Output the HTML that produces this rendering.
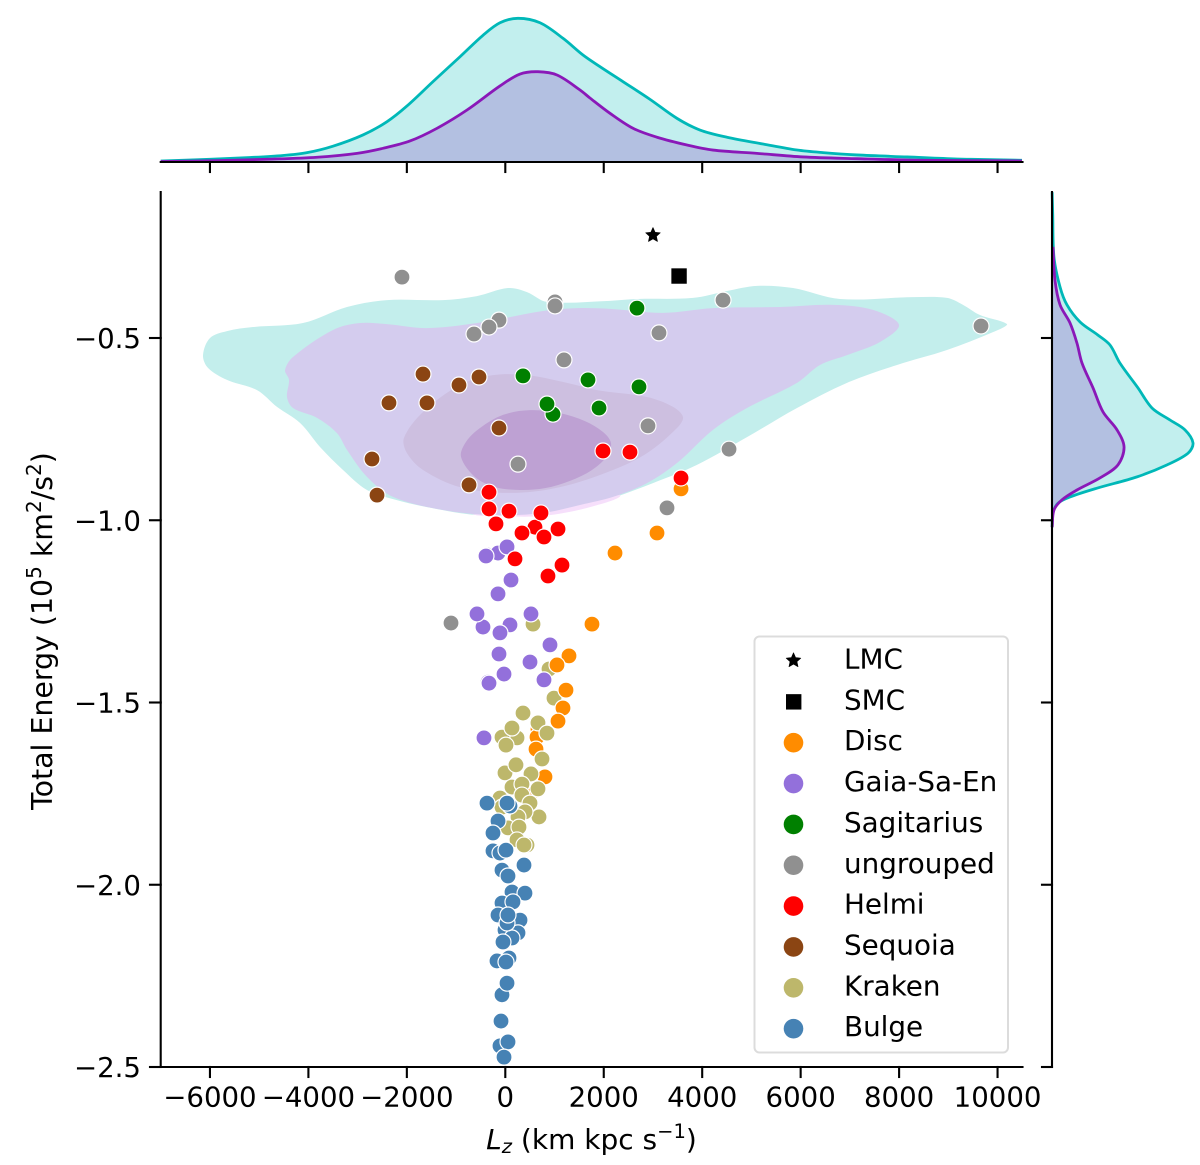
<!DOCTYPE html>
<html>
<head>
<meta charset="utf-8">
<title>Total energy versus angular momentum</title>
<style>
html,body{margin:0;padding:0;background:#fff;}
svg{display:block;}
text{font-family:"DejaVu Sans",sans-serif;fill:#000;}
</style>
</head>
<body>
<svg id="chart" width="1200" height="1165" viewBox="0 0 1200 1165" xmlns="http://www.w3.org/2000/svg"></svg>
<script>
// Tick values
const xTickValues = [-6000, -4000, -2000, 0, 2000, 4000, 6000, 8000, 10000];
const yTickValues = [-0.5, -1.0, -1.5, -2.0, -2.5];

// Contour levels (Lz, energy)
const outerContourLz = [-6141,-5999,-5654,-5125,-4110,-3216,-2403,-1266,-575,55,441,847,2127,2675,3813,4504,5113,5845,6799,8282,8973,9298,9644,10111,10192,9907,8973,7957,6942,5926,4910,3894,3000,2188,1518,441,-575,-1591,-2281,-2810,-3297,-3764,-4171,-4638,-5044,-5654,-6040];
const outerContourEnergy = [-0.547,-0.5,-0.481,-0.47,-0.459,-0.415,-0.396,-0.396,-0.385,-0.363,-0.374,-0.401,-0.398,-0.393,-0.39,-0.371,-0.357,-0.363,-0.393,-0.388,-0.39,-0.409,-0.437,-0.456,-0.464,-0.484,-0.533,-0.574,-0.623,-0.692,-0.772,-0.848,-0.898,-0.939,-0.966,-0.986,-0.986,-0.964,-0.942,-0.917,-0.862,-0.799,-0.733,-0.689,-0.643,-0.615,-0.582];
const pinkContourLz = [-717,-108,766,1720,2330,1111,-514];
const pinkContourEnergy = [-0.977,-0.988,-0.988,-0.964,-0.931,-0.89,-0.89];
const purpleContourLz = [-4475,-4313,-3500,-2952,-2403,-1591,-575,766,1457,2127,3204,4219,5581,6657,7470,7998,7612,6942,6393,5926,4910,4219,3488,2879,2188,1518,766,-250,-1266,-2281,-2810,-3216,-3419,-3825,-4313,-4435,-4394];
const purpleContourEnergy = [-0.588,-0.552,-0.478,-0.459,-0.462,-0.473,-0.459,-0.426,-0.418,-0.42,-0.431,-0.418,-0.415,-0.409,-0.423,-0.464,-0.511,-0.547,-0.574,-0.623,-0.692,-0.752,-0.843,-0.898,-0.936,-0.958,-0.98,-0.986,-0.972,-0.936,-0.881,-0.807,-0.761,-0.719,-0.692,-0.662,-0.615];
const middleContourLz = [-2058,-1672,-920,-250,441,1253,1863,2879,3407,3610,3488,2879,2188,1111,95,-920,-1672,-1997];
const middleContourEnergy = [-0.774,-0.703,-0.629,-0.602,-0.602,-0.623,-0.643,-0.662,-0.689,-0.717,-0.747,-0.816,-0.862,-0.909,-0.925,-0.909,-0.862,-0.816];
const innerContourLz = [-900,-798,-514,-47,502,1111,1619,1985,2147,2066,1761,1314,806,299,-209,-616];
const innerContourEnergy = [-0.826,-0.785,-0.747,-0.711,-0.698,-0.706,-0.728,-0.758,-0.788,-0.824,-0.862,-0.892,-0.912,-0.917,-0.909,-0.881];

// Top marginal density
const topAllLz = [-7000,-5999,-5186,-4516,-4028,-3500,-2891,-2403,-1997,-1469,-920,-453,-108,258,705,1172,1578,1924,2391,2940,3488,3955,4504,5235,5926,6454,7145,8161,9176,10497];
const topAllDensity = [0.007,0.019,0.031,0.045,0.065,0.11,0.188,0.28,0.389,0.558,0.731,0.88,0.967,0.998,0.967,0.859,0.743,0.662,0.558,0.435,0.303,0.222,0.172,0.125,0.083,0.065,0.049,0.035,0.021,0.012];
const topGroupLz = [-7000,-5857,-4841,-3825,-3013,-2485,-1936,-1388,-778,-108,299,664,1050,1518,1721,2127,2594,3082,3691,4219,5113,6048,7145,8485,10497];
const topGroupDensity = [0.003,0.009,0.019,0.033,0.06,0.095,0.146,0.234,0.361,0.528,0.611,0.627,0.604,0.5,0.444,0.338,0.234,0.172,0.118,0.083,0.06,0.035,0.023,0.012,0.007];

// Right marginal density
const rightAllEnergy = [-0.1,-0.157,-0.278,-0.36,-0.409,-0.456,-0.492,-0.519,-0.569,-0.637,-0.692,-0.725,-0.752,-0.788,-0.816,-0.848,-0.881,-0.912,-0.936,-0.953,-0.98,-1.019];
const rightAllDensity = [0.001,0.005,0.014,0.057,0.106,0.199,0.326,0.411,0.482,0.61,0.709,0.837,0.943,1.0,0.965,0.816,0.603,0.319,0.128,0.043,0.007,0.001];
const rightGroupEnergy = [-0.25,-0.341,-0.409,-0.459,-0.514,-0.569,-0.637,-0.703,-0.752,-0.799,-0.848,-0.884,-0.917,-0.944,-0.972,-1.019];
const rightGroupDensity = [0.007,0.021,0.057,0.128,0.177,0.213,0.291,0.362,0.461,0.511,0.468,0.34,0.177,0.071,0.014,0.001];

// Scatter groups
const discUpperLz = [3570,3082,2229,1761,1294,1050,1233,1172,1071];
const discUpperEnergy = [-0.914,-1.035,-1.09,-1.285,-1.372,-1.397,-1.466,-1.515,-1.551];
const discLowerLz = [664,644,624,806,542];
const discLowerEnergy = [-1.573,-1.595,-1.628,-1.704,-1.746];
const gaiaLz = [-372,-148,-392,35,116,-148,-453,95,-575,-108,522,-128,908,502,-351,-331,-26,786,-433];
const gaiaEnergy = [-1.095,-1.09,-1.098,-1.073,-1.164,-1.202,-1.293,-1.287,-1.257,-1.309,-1.257,-1.367,-1.342,-1.389,-1.444,-1.447,-1.422,-1.438,-1.597];
const sagittariusLz = [360,1680,969,847,1904,2675,2716];
const sagittariusEnergy = [-0.604,-0.615,-0.709,-0.681,-0.692,-0.418,-0.634];
const ungroupedLz = [-2099,1010,1010,-128,-331,-636,1192,258,4423,3122,2899,9664,4545,3285,-1103];
const ungroupedEnergy = [-0.333,-0.401,-0.412,-0.451,-0.47,-0.489,-0.56,-0.846,-0.396,-0.486,-0.741,-0.467,-0.805,-0.966,-1.282];
const helmiLz = [1985,2533,3570,-331,-331,75,603,725,-189,1071,339,786,197,1152,867];
const helmiEnergy = [-0.81,-0.813,-0.884,-0.923,-0.969,-0.975,-1.019,-0.98,-1.01,-1.024,-1.035,-1.046,-1.106,-1.123,-1.153];
const sequoiaLz = [-1672,-941,-534,-2363,-1591,-128,-2708,-737,-2606];
const sequoiaEnergy = [-0.599,-0.629,-0.607,-0.678,-0.678,-0.747,-0.832,-0.903,-0.931];
const krakenLz = [563,888,989,360,664,847,238,-67,14,136,746,-6,217,522,136,339,664,339,-108,502,-67,685,400,258,55,278,238,441,380];
const krakenEnergy = [-1.285,-1.408,-1.488,-1.529,-1.556,-1.584,-1.597,-1.595,-1.617,-1.57,-1.655,-1.693,-1.671,-1.696,-1.732,-1.724,-1.737,-1.754,-1.762,-1.776,-1.787,-1.814,-1.8,-1.814,-1.844,-1.842,-1.877,-1.891,-1.891];
const bulgeLz = [-372,95,35,-148,-250,-250,-108,14,380,-67,55,136,400,-67,156,-148,299,-6,258,136,35,55,-47,-169,75,14,-67,35,-87,-108,55,-26];
const bulgeEnergy = [-1.776,-1.784,-1.776,-1.825,-1.858,-1.907,-1.913,-1.905,-1.946,-1.96,-1.976,-2.02,-2.023,-2.05,-2.047,-2.083,-2.097,-2.124,-2.132,-2.146,-2.105,-2.083,-2.157,-2.209,-2.201,-2.212,-2.302,-2.27,-2.374,-2.442,-2.431,-2.473];
const lmcLz = [3000];
const lmcEnergy = [-0.218];
const smcLz = [3530];
const smcEnergy = [-0.33];
const legendLabels = ["LMC","SMC","Disc","Gaia-Sa-En","Sagitarius","ungrouped","Helmi","Sequoia","Kraken","Bulge"];
const legendColors = ["#000","#000","#ff8c00","#9370db","#008000","#909090","#ff0000","#8b4513","#bdb76b","#4682b4"];

const NS = "http://www.w3.org/2000/svg";
const svg = document.getElementById("chart");

// Axis functions
const xScale = v => 505.3 + v * 0.049225;
const yScale = v => 338 + (-0.5 - v) * 364.5;
const topDensityScale = d => 162 - d * 144;
const rightDensityScale = d => 1052 + d * 141;

function make(tag, attrs, parent) {
  const el = document.createElementNS(NS, tag);
  for (const k in attrs) el.setAttribute(k, attrs[k]);
  (parent || svg).appendChild(el);
  return el;
}
function slug(s) { return s.toLowerCase().replace(/[^a-z0-9]+/g, "-"); }

// Smooth curve with chord-length tangents, so uneven spacing does not kink
function smooth(pts, closed) {
  const n = pts.length;
  const at = i => closed ? pts[(i + n) % n] : pts[Math.max(0, Math.min(n - 1, i))];
  const dist = (a, b) => Math.max(0.001, Math.hypot(a[0] - b[0], a[1] - b[1]));
  const tangent = i => {
    const a = at(i - 1), b = at(i + 1);
    const len = dist(a, at(i)) + dist(at(i), b);
    return [(b[0] - a[0]) / len, (b[1] - a[1]) / len];
  };
  let d = "M" + pts[0][0].toFixed(2) + " " + pts[0][1].toFixed(2);
  const segs = closed ? n : n - 1;
  for (let i = 0; i < segs; i++) {
    const p1 = at(i), p2 = at(i + 1);
    const h = dist(p1, p2) / 3;
    const t1 = tangent(i), t2 = tangent(i + 1);
    d += "C" + (p1[0] + t1[0] * h).toFixed(2) + " " + (p1[1] + t1[1] * h).toFixed(2) + " " + (p2[0] - t2[0] * h).toFixed(2) + " " + (p2[1] - t2[1] * h).toFixed(2) + " " + p2[0].toFixed(2) + " " + p2[1].toFixed(2);
  }
  return d + (closed ? "Z" : "");
}

// Contours
const contours = [
  ["contour-outer", outerContourLz, outerContourEnergy, "#c3eeec"],
  ["contour-pink-edge", pinkContourLz, pinkContourEnergy, "#f6dffb"],
  ["contour-group-outer", purpleContourLz, purpleContourEnergy, "#d4ccee"],
  ["contour-group-middle", middleContourLz, middleContourEnergy, "#cdbfe0"],
  ["contour-group-inner", innerContourLz, innerContourEnergy, "#bea1d3"]
];
contours.forEach(c => {
  const pts = c[1].map((v, i) => [xScale(v), yScale(c[2][i])]);
  const el = make("path", { d: smooth(pts, true), fill: c[3] });
  
  
});

// Scatter
function drawGroup(name, color, lz, energy) {
  lz.forEach((v, i) => {
    const el = make("circle", { cx: xScale(v), cy: yScale(energy[i]), r: 8, fill: color, stroke: "#fff", "stroke-width": 1.2 });
    
    
  });
}
drawGroup("sequoia", "#8b4513", sequoiaLz, sequoiaEnergy);
drawGroup("sagitarius", "#008000", sagittariusLz, sagittariusEnergy);
drawGroup("ungrouped", "#909090", ungroupedLz, ungroupedEnergy);
drawGroup("gaia-sa-en", "#9370db", gaiaLz.slice(0, 2), gaiaEnergy.slice(0, 2));
drawGroup("disc", "#ff8c00", discLowerLz, discLowerEnergy);
drawGroup("kraken", "#bdb76b", krakenLz, krakenEnergy);
drawGroup("gaia-sa-en", "#9370db", gaiaLz.slice(2), gaiaEnergy.slice(2));
drawGroup("disc", "#ff8c00", discUpperLz, discUpperEnergy);
drawGroup("helmi", "#ff0000", helmiLz, helmiEnergy);
drawGroup("bulge", "#4682b4", bulgeLz, bulgeEnergy);

function starPath(cx, cy, R) {
  let d = "";
  for (let i = 0; i < 10; i++) {
    const r = i % 2 ? R * 0.47 : R;
    const a = -Math.PI / 2 + i * Math.PI / 5;
    d += (i ? "L" : "M") + (cx + r * Math.cos(a)).toFixed(2) + " " + (cy + r * Math.sin(a)).toFixed(2);
  }
  return d + "Z";
}
lmcLz.forEach((v, i) => {
  const el = make("path", { d: starPath(xScale(v), yScale(lmcEnergy[i]), 7.7), fill: "#000", stroke: "#000", "stroke-width": 0.6, "stroke-linejoin": "round" });
  
  
});
smcLz.forEach((v, i) => {
  const el = make("rect", { x: xScale(v) - 7.7, y: yScale(smcEnergy[i]) - 7.7, width: 15.4, height: 15.4, fill: "#000" });
  
  
});

// Top marginal
function topArea(name, lz, density, fill, stroke) {
  const pts = lz.map((v, i) => [xScale(v), topDensityScale(density[i])]);
  const line = smooth(pts, false);
  const area = make("path", { d: line + "L" + pts[pts.length - 1][0] + " 162L" + pts[0][0] + " 162Z", fill: fill });
  
  
  return () => {
    const el = make("path", { d: line, fill: "none", stroke: stroke, "stroke-width": 2.8 });
    
    
  };
}
const topAllLine = topArea("top-density-all", topAllLz, topAllDensity, "#c2efee", "#00b8b8");
const topGroupLine = topArea("top-density-group", topGroupLz, topGroupDensity, "#b3c0e1", "#8a18b8");
topAllLine();
topGroupLine();

// Right marginal
function rightArea(name, energy, density, fill, stroke) {
  const pts = energy.map((v, i) => [rightDensityScale(density[i]), yScale(v)]);
  const line = smooth(pts, false);
  const area = make("path", { d: line + "L1052 " + pts[pts.length - 1][1] + "L1052 " + pts[0][1] + "Z", fill: fill });
  
  
  return () => {
    const el = make("path", { d: line, fill: "none", stroke: stroke, "stroke-width": 2.8 });
    
    
  };
}
const rightAllLine = rightArea("right-density-all", rightAllEnergy, rightAllDensity, "#c2efee", "#00b8b8");
const rightGroupLine = rightArea("right-density-group", rightGroupEnergy, rightGroupDensity, "#b3c0e1", "#8a18b8");
rightAllLine();
rightGroupLine();

// Spines
function spine(name, x1, y1, x2, y2) {
  const el = make("line", { x1: x1, y1: y1, x2: x2, y2: y2, stroke: "#000", "stroke-width": 2.1, "stroke-linecap": "square" });
  
  
}
spine("main-left-spine", 160.7, 192, 160.7, 1067);
spine("main-bottom-spine", 160.7, 1067, 1022.5, 1067);
spine("top-marginal-spine", 160.7, 162, 1022.5, 162);
spine("right-marginal-spine", 1052, 192, 1052, 1067);

// Ticks and labels
xTickValues.forEach(v => {
  const x = xScale(v);
  spine("x-tick", x, 1067, x, 1077);
  spine("top-marginal-tick", x, 162, x, 172);
  const t = make("text", { x: x, y: 1106.5, "text-anchor": "middle", "font-size": 27.6 });
  t.textContent = String(v).replace("-", "\u2212");
  
  
});
yTickValues.forEach(v => {
  const y = yScale(v);
  spine("y-tick", 150, y, 160.7, y);
  spine("right-marginal-tick", 1042, y, 1052, y);
  const t = make("text", { x: 141, y: y + 10, "text-anchor": "end", "font-size": 27.6 });
  t.textContent = v.toFixed(1).replace("-", "\u2212");
  
  
});

// Axis titles
const xTitle = make("text", { x: 591.5, y: 1149, "text-anchor": "middle", "font-size": 28 });


xTitle.innerHTML = '<tspan font-style="italic">L</tspan><tspan font-style="italic" font-size="19.5" dy="4">z</tspan><tspan dy="-4"> (km kpc s</tspan><tspan font-size="19.5" dy="-11">\u22121</tspan><tspan dy="11">)</tspan>';

const yTitle = make("text", { x: 0, y: 0, transform: "translate(52 631) rotate(-90)", "text-anchor": "middle", "font-size": 28.4 });


yTitle.innerHTML = 'Total Energy (10<tspan font-size="20" dy="-11">5</tspan><tspan dy="11"> km</tspan><tspan font-size="20" dy="-11">2</tspan><tspan dy="11">/s</tspan><tspan font-size="20" dy="-11">2</tspan><tspan dy="11">)</tspan>';

// Legend
const legend = make("g", {});


const legendBox = make("rect", { x: 754.5, y: 636.5, width: 253.5, height: 416, rx: 5, ry: 5, fill: "#fff", "fill-opacity": 0.8, stroke: "#dcdcdc", "stroke-width": 2 }, legend);


legendLabels.forEach((label, i) => {
  const cy = 661 + i * 40.85;
  let m;
  if (i === 0) {
    m = make("path", { d: starPath(793.5, cy - 0.5, 7.7), fill: "#000", stroke: "#000", "stroke-width": 0.6, "stroke-linejoin": "round" }, legend);
  } else if (i === 1) {
    m = make("rect", { x: 786, y: cy - 7.7, width: 15.4, height: 15.4, fill: "#000" }, legend);
  } else {
    m = make("circle", { cx: 793.5, cy: cy, r: 9.8, fill: legendColors[i] }, legend);
  }
  
  
  const t = make("text", { x: 844, y: 668.5 + i * 40.85, "font-size": 27.8 }, legend);
  t.textContent = label;
  
  
});
</script>
</body>
</html>
